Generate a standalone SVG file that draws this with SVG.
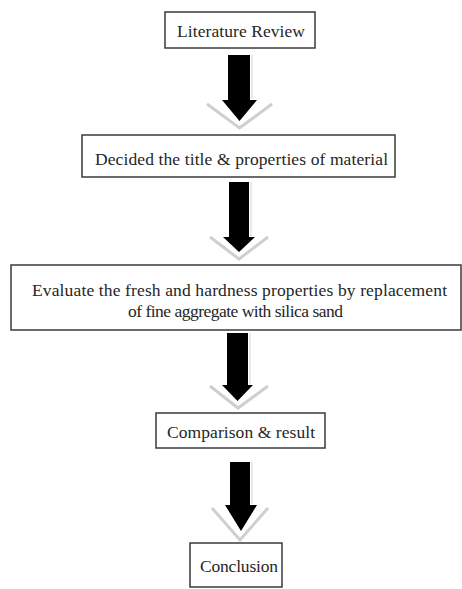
<svg xmlns="http://www.w3.org/2000/svg" width="462" height="589" viewBox="0 0 462 589">
<style>
.box{fill:#fff;stroke:#3a3a3a;stroke-width:1.5}
.lbl{font-family:"Liberation Serif","Times New Roman",serif;font-size:17.5px;fill:#262626;text-anchor:middle}
.arr{fill:#000}
.glow{fill:none;stroke:#cfcfcf;stroke-width:3;stroke-linejoin:miter}
.edge{fill:none;stroke:#e2e2e2;stroke-width:1.5}
</style>
<rect width="462" height="589" fill="#fff"/>
<g id="connectors">
  <g id="a1">
    <polyline class="glow" points="207,104 239.5,128 272,104"/>
    <path class="edge" d="M252,55 V99"/>
    <polygon class="arr" points="228,55 250,55 250,100 257,100 239.5,121 222,100 228,100"/>
  </g>
  <g id="a2">
    <polyline class="glow" points="210,237 239,259 268,237"/>
    <path class="edge" d="M251,182 V236"/>
    <polygon class="arr" points="229,182 249,182 249,237 255,237 239,252 223,237 229,237"/>
  </g>
  <g id="a3">
    <polyline class="glow" points="210,386 238,408 268,386"/>
    <path class="edge" d="M250,333 V385"/>
    <polygon class="arr" points="227,333 248,333 248,385 253,385 237.5,401 222,385 227,385"/>
  </g>
  <g id="a4">
    <polyline class="glow" points="212,508 240,540 268,508"/>
    <path class="edge" d="M252,462 V504"/>
    <polygon class="arr" points="230,462 250,462 250,505 257,505 241,531 225,505 230,505"/>
  </g>
</g>
<g id="n1">
  <rect class="box" x="165" y="12" width="150" height="36"/>
  <text class="lbl" x="241" y="37" textLength="128">Literature Review</text>
</g>
<g id="n2">
  <rect class="box" x="82" y="135" width="313" height="42"/>
  <text class="lbl" x="241.5" y="165" textLength="293">Decided the title &amp; properties of material</text>
</g>
<g id="n3">
  <rect class="box" x="11" y="265" width="450" height="65"/>
  <text class="lbl" x="239.5" y="296" textLength="415">Evaluate the fresh and hardness properties by replacement</text>
  <text class="lbl" x="235.5" y="317" textLength="215">of fine aggregate with silica sand</text>
</g>
<g id="n4">
  <rect class="box" x="156" y="413" width="169" height="35"/>
  <text class="lbl" x="241" y="438" textLength="148">Comparison &amp; result</text>
</g>
<g id="n5">
  <rect class="box" x="190" y="543" width="92" height="44"/>
  <text class="lbl" x="239" y="572" textLength="78">Conclusion</text>
</g>
</svg>
